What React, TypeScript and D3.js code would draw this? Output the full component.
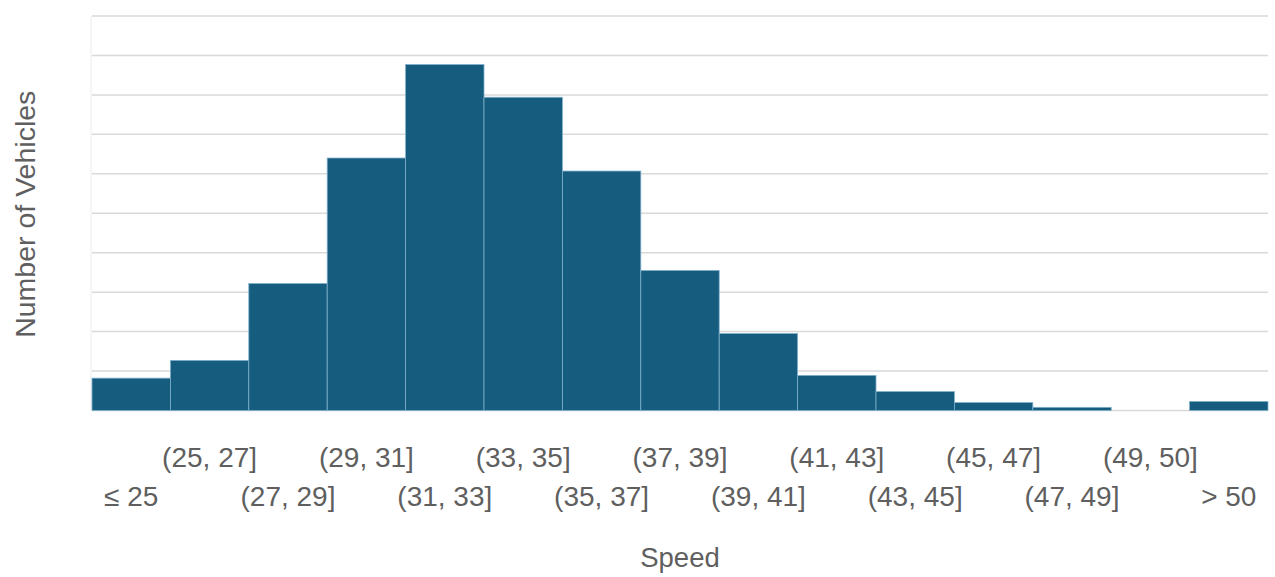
import React from "react";
import * as d3 from "d3";

const categories = [
  "≤ 25", "(25, 27]", "(27, 29]", "(29, 31]", "(31, 33]", "(33, 35]", "(35, 37]",
  "(37, 39]", "(39, 41]", "(41, 43]", "(43, 45]", "(45, 47]", "(47, 49]", "(49, 50]", "> 50",
];
const counts = [8.2, 12.7, 32.2, 64, 87.7, 79.4, 60.7, 35.5, 19.5, 8.9, 4.8, 2.0, 0.8, 0, 2.3];
const yTicks = [0, 10, 20, 30, 40, 50, 60, 70, 80, 90, 100];
const xTitle = "Speed";
const yTitle = "Number of Vehicles";

const W = 1275;
const H = 577;
const left = 92;
const right = 1268;
const top = 16;
const bottom = 410.5;

export default function App() {
  const x = d3.scaleBand<string>().domain(categories).range([left, right]).padding(0);
  const y = d3.scaleLinear().domain([0, 100]).range([bottom, top]);
  const font = "'Liberation Sans', Arial, sans-serif";
  const textColor = "#5f5f5f";
  return (
    <svg
      width={W}
      height={H}
      style={{ position: "absolute", left: 0, top: 0, display: "block", background: "#fff" }}
    >
      <line x1={left - 1} x2={left - 1} y1={top} y2={bottom} stroke="#ececec" strokeWidth={1} />
      {yTicks.map((t) => (
        <line key={t} x1={left} x2={right} y1={y(t)} y2={y(t)} stroke="#d9d9d9" strokeWidth={1.5} />
      ))}
      {categories.map((c, i) =>
        counts[i] > 0 ? (
          <rect
            key={c}
            x={x(c)!}
            y={y(counts[i])}
            width={x.bandwidth()}
            height={bottom - y(counts[i])}
            fill="#155c7e"
            stroke="#7fb0cc"
            strokeWidth={0.8}
          />
        ) : null
      )}
      {categories.map((c, i) => (
        <text
          key={"l" + c}
          x={x(c)! + x.bandwidth() / 2}
          y={i % 2 === 1 ? 467 : 506}
          textAnchor="middle"
          fontFamily={font}
          fontSize={28}
          fill={textColor}
        >
          {c}
        </text>
      ))}
      <text
        x={(left + right) / 2}
        y={567}
        textAnchor="middle"
        fontFamily={font}
        fontSize={27.5}
        fill={textColor}
      >
        {xTitle}
      </text>
      <text
        transform={`translate(35, ${(top + bottom) / 2 + 1}) rotate(-90)`}
        textAnchor="middle"
        fontFamily={font}
        fontSize={28.5}
        fill={textColor}
      >
        {yTitle}
      </text>
    </svg>
  );
}
